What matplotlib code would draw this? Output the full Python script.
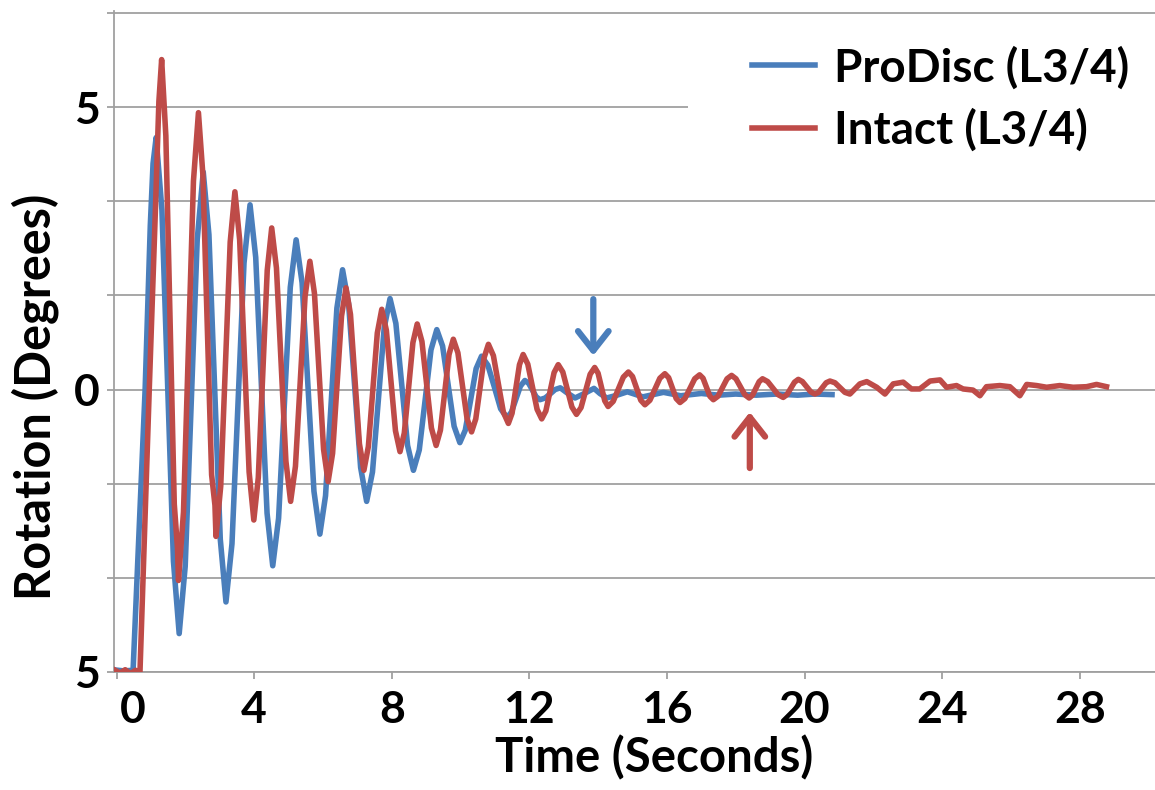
import matplotlib
matplotlib.use('Agg')
import matplotlib.pyplot as plt
import matplotlib.transforms as mtrans
from matplotlib.patches import Rectangle

plt.rcParams['font.family'] = ['Lato', 'DejaVu Sans']
plt.rcParams['font.weight'] = 'bold'
plt.rcParams['axes.labelweight'] = 'bold'

# ProDisc (L3/4): (time s, rotation deg)
pro_points = [
    (-0.1, -4.96), (0.2, -4.98), (0.48, -4.97), (0.83, 0.0), (0.98, 2.9), (1.06, 4.0), (1.15, 4.46),
    (1.318, 3.18), (1.485, 0.07), (1.653, -3.04), (1.82, -4.32),
    (1.995, -3.13), (2.17, -0.24), (2.345, 2.66), (2.52, 3.85),
    (2.685, 2.74), (2.85, 0.05), (3.015, -2.65), (3.18, -3.76),
    (3.355, -2.73), (3.53, -0.25), (3.705, 2.24), (3.88, 3.27),
    (4.045, 2.34), (4.21, 0.08), (4.375, -2.19), (4.54, -3.12),
    (4.71, -2.28), (4.88, -0.24), (5.05, 1.81), (5.22, 2.65),
    (5.393, 1.89), (5.565, 0.05), (5.738, -1.80), (5.91, -2.56),
    (6.075, -1.88), (6.24, -0.22), (6.405, 1.44), (6.57, 2.12),
    (6.745, 1.52), (6.92, 0.07), (7.095, -1.38), (7.27, -1.98),
    (7.44, -1.46), (7.61, -0.19), (7.78, 1.09), (7.95, 1.61),
    (8.12, 1.17), (8.29, 0.09), (8.46, -0.99), (8.63, -1.43),
    (8.80, -1.07), (8.97, -0.19), (9.14, 0.70), (9.31, 1.06),
    (9.478, 0.77), (9.645, 0.06), (9.813, -0.65), (9.98, -0.94),
    (10.138, -0.72), (10.295, -0.18), (10.453, 0.37), (10.61, 0.59),
    (10.795, 0.43), (10.98, 0.05), (11.165, -0.34), (11.35, -0.50),
    (11.48, -0.40), (11.61, -0.17), (11.74, 0.06), (11.87, 0.16),
    (11.98, 0.11), (12.09, -0.01), (12.20, -0.13), (12.31, -0.18),
    (12.46, -0.15), (12.61, -0.075), (12.75, 0.0), (12.9, 0.03),
    (13.1, -0.06), (13.33, -0.15), (13.6, -0.07), (13.88, 0.02),
    (14.05, -0.07), (14.25, -0.15), (14.55, -0.10), (14.85, -0.04),
    (15.30, -0.13), (15.90, -0.05), (16.40, -0.11), (17.0, -0.07),
    (17.5, -0.10), (18.0, -0.08), (18.6, -0.10), (19.2, -0.08),
    (19.8, -0.10), (20.3, -0.08), (20.8, -0.09),
]

# Intact (L3/4)
int_points = [
    (-0.1, -4.95), (0.1, -5.02), (0.25, -4.96), (0.4, -5.03), (0.55, -4.97), (0.68, -5.0),
    (0.95, 0.0), (1.13, 3.2), (1.23, 5.1), (1.31, 5.84),
    (1.4325, 4.49), (1.555, 1.23), (1.6775, -2.03), (1.77, -2.8), (1.80, -3.38),
    (1.945, -2.17), (2.09, 0.76), (2.235, 3.69), (2.38, 4.90),
    (2.508, 3.81), (2.635, 1.15), (2.763, -1.51), (2.86, -2.05), (2.89, -2.60),
    (3.028, -1.71), (3.165, 0.45), (3.303, 2.61), (3.44, 3.50),
    (3.578, 2.65), (3.715, 0.60), (3.853, -1.46), (3.99, -2.31),
    (4.12, -1.56), (4.25, 0.28), (4.38, 2.11), (4.51, 2.86),
    (4.648, 2.15), (4.785, 0.44), (4.923, -1.27), (5.06, -1.98),
    (5.20, -1.36), (5.34, 0.15), (5.48, 1.65), (5.62, 2.27),
    (5.753, 1.70), (5.885, 0.32), (6.018, -1.06), (6.15, -1.63),
    (6.28, -1.13), (6.41, 0.09), (6.54, 1.30), (6.67, 1.80),
    (6.80, 1.33), (6.93, 0.19), (7.06, -0.96), (7.19, -1.43),
    (7.32, -1.01), (7.45, 0.0), (7.58, 1.00), (7.71, 1.42),
    (7.843, 1.05), (7.975, 0.16), (8.108, -0.73), (8.24, -1.10),
    (8.365, -0.77), (8.49, 0.03), (8.615, 0.83), (8.74, 1.16),
    (8.878, 0.85), (9.015, 0.09), (9.153, -0.68), (9.29, -0.99),
    (9.415, -0.72), (9.54, -0.05), (9.665, 0.62), (9.79, 0.89),
    (9.923, 0.65), (10.055, 0.07), (10.188, -0.51), (10.32, -0.75),
    (10.443, -0.52), (10.565, 0.03), (10.688, 0.57), (10.81, 0.80),
    (10.955, 0.60), (11.10, 0.10), (11.245, -0.40), (11.39, -0.60),
    (11.498, -0.42), (11.605, 0.01), (11.713, 0.44), (11.82, 0.62),
    (11.955, 0.45), (12.09, 0.05), (12.225, -0.35), (12.36, -0.52),
    (12.48, -0.38), (12.60, -0.04), (12.72, 0.30), (12.84, 0.44),
    (12.973, 0.31), (13.105, 0.0), (13.238, -0.31), (13.37, -0.44),
    (13.503, -0.32), (13.635, -0.025), (13.768, 0.27), (13.90, 0.39),
    (13.998, 0.29), (14.095, 0.045), (14.193, -0.20), (14.29, -0.30),
    (14.438, -0.21), (14.585, 0.005), (14.733, 0.22), (14.88, 0.31),
    (15.0, 0.23), (15.12, 0.02), (15.24, -0.19), (15.36, -0.27),
    (15.505, -0.19), (15.65, 0.005), (15.795, 0.20), (15.94, 0.28),
    (16.05, 0.21), (16.16, 0.025), (16.27, -0.16), (16.38, -0.23),
    (16.523, -0.16), (16.665, 0.015), (16.808, 0.19), (16.95, 0.26),
    (17.05, 0.20), (17.15, 0.04), (17.25, -0.12), (17.35, -0.18),
    (17.483, -0.12), (17.615, 0.035), (17.748, 0.19), (17.88, 0.25),
    (18.008, 0.19), (18.135, 0.05), (18.263, -0.09), (18.39, -0.15),
    (18.488, -0.10), (18.585, 0.02), (18.683, 0.14), (18.78, 0.19),
    (18.93, 0.14), (19.08, 0.025), (19.23, -0.09), (19.38, -0.14),
    (19.49, -0.09), (19.60, 0.02), (19.71, 0.13), (19.82, 0.18),
    (19.94, 0.14), (20.06, 0.05), (20.18, -0.04), (20.30, -0.08),
    (20.41, -0.05), (20.52, 0.035), (20.63, 0.12), (20.74, 0.15),
    (20.885, 0.12), (21.03, 0.035), (21.175, -0.05), (21.32, -0.08),
    (21.61, 0.10), (21.81, 0.14), (22.10, 0.04), (22.34, -0.08), (22.58, 0.10),
    (22.87, 0.13), (23.11, 0.01), (23.35, 0.01), (23.65, 0.15), (23.94, 0.17),
    (24.13, 0.04), (24.42, 0.07), (24.61, 0.01), (24.90, -0.01), (25.10, -0.11),
    (25.29, 0.05), (25.68, 0.07), (25.97, 0.05), (26.26, -0.11), (26.46, 0.09),
    (26.75, 0.07), (27.04, 0.04), (27.42, 0.07), (27.81, 0.04), (28.20, 0.05),
    (28.49, 0.09), (28.78, 0.05),
]

x_ticks = [0, 4, 8, 12, 16, 20, 24, 28]
y_ticks = [-5, 0, 5]
y_ticklabels = ['5', '0', '5']
y_minor = [-10/3, -5/3, 5/3, 10/3, 20/3]

blue = '#4a7ebb'
red = '#be4b48'
grey = '#a0a0a0'

pro_t, pro_v = zip(*pro_points)
int_t, int_v = zip(*int_points)

fig = plt.figure(figsize=(11.55, 7.9), dpi=100)
ax = fig.add_axes([114/1155, 1 - 672/790, 1041/1155, 661/790])

ax.plot(pro_t, pro_v, color=blue, lw=4.0, label='ProDisc (L3/4)', solid_joinstyle='round', zorder=2)
ax.plot(int_t, int_v, color=red, lw=4.0, label='Intact (L3/4)', solid_joinstyle='round', zorder=3)

ax.set_xlim(-0.075, 30.19)
ax.set_ylim(-5, 6.70)

ax.set_xticks(x_ticks)
ax.set_yticks(y_ticks)
ax.set_yticklabels(y_ticklabels)
ax.set_yticks(y_minor, minor=True)
ax.set_axisbelow(True)
ax.grid(axis='y', which='both', color=grey, lw=1.3)

for s in ['top', 'right']:
    ax.spines[s].set_visible(False)
for s in ['left', 'bottom']:
    ax.spines[s].set_color(grey)
    ax.spines[s].set_linewidth(1.3)

ax.tick_params(axis='both', which='both', direction='out', color=grey, width=1.3, length=5)
ax.tick_params(axis='y', which='major', labelsize=32, pad=5)
ax.tick_params(axis='x', labelsize=32, pad=8)

tick0 = ax.xaxis.get_major_ticks()[0]
tick0.label1.set_transform(tick0.label1.get_transform() +
                           mtrans.ScaledTranslation(0.16, 0, fig.dpi_scale_trans))

# white patch hiding the gridline behind the legend
ax.add_patch(Rectangle((16.6, 4.3), 20, 1.4, facecolor='white', edgecolor='none', zorder=1))

ax.set_xlabel('Time (Seconds)', fontsize=34, va='center')
ax.xaxis.set_label_coords((654 - 114) / 1041, (672 - 758) / 661)
ax.set_ylabel('Rotation (Degrees)', fontsize=35, va='center')
ax.yaxis.set_label_coords((35 - 114) / 1041, (672 - 397) / 661)

leg = ax.legend(loc='upper left', bbox_to_anchor=(752/1155, 1 - 46/790),
                bbox_transform=fig.transFigure, frameon=False, fontsize=33,
                handlelength=1.38, handletextpad=0.42, labelspacing=0.42,
                borderpad=0, borderaxespad=0)

ax.annotate('', xy=(13.86, 0.6), xytext=(13.86, 1.6),
            arrowprops=dict(arrowstyle='->,head_length=0.7,head_width=0.55',
                            color=blue, lw=4.5, mutation_scale=20, shrinkA=0, shrinkB=0))
ax.annotate('', xy=(18.41, -0.40), xytext=(18.41, -1.39),
            arrowprops=dict(arrowstyle='->,head_length=0.7,head_width=0.55',
                            color=red, lw=4.5, mutation_scale=20, shrinkA=0, shrinkB=0))

fig.savefig('out.png', dpi=100)
